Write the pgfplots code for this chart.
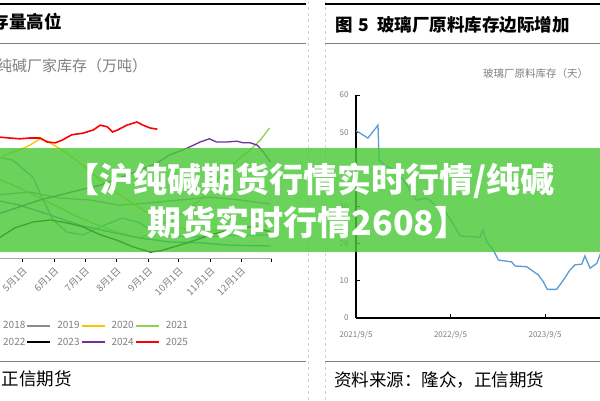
\documentclass[border=0pt]{standalone}
\usepackage{fontspec}
\setmainfont{Noto Sans CJK SC}
\usepackage{pgfplots}
\pgfplotsset{compat=1.18}
\definecolor{c2018}{HTML}{5B9BD5}
\definecolor{c2019}{HTML}{8C8C8C}
\definecolor{c2020}{HTML}{FFC000}
\definecolor{c2021}{HTML}{92D050}
\definecolor{c2022}{HTML}{4472C4}
\definecolor{c2023}{HTML}{000000}
\definecolor{c2024}{HTML}{7030A0}
\definecolor{c2025}{HTML}{FF0000}
\definecolor{glassblue}{HTML}{5B9BD5}
\definecolor{banner}{RGB}{75,201,57}
\definecolor{txtgray}{HTML}{7F7F7F}
\begin{document}
\begin{tikzpicture}
\useasboundingbox (0pt,0pt) rectangle (600pt,400pt);
\clip (0pt,0pt) rectangle (600pt,400pt);
\fill[white] (0pt,0pt) rectangle (600pt,400pt);
\begin{scope}[x=1pt,y=1pt]
 \draw[gray!35, dashed] (308,0) -- (308,400);
 \draw[gray!35, dashed] (325,0) -- (325,400);
 \draw[black, line width=2pt] (0,396) -- (306,396);
 \draw[black, line width=2pt] (325,396) -- (600,396);
 \draw[gray, line width=1pt] (0,356) -- (306,356);
 \draw[gray, line width=1pt] (325,356) -- (600,356);
 \draw[gray, line width=1pt] (0,39) -- (306,39);
 \draw[gray, line width=1pt] (325,39) -- (600,39);
 \node[anchor=east, font=\fontsize{17.5}{20}\selectfont\bfseries, inner sep=0pt] at (62,378) {图 1 纯碱库存量高位};
 \node[anchor=west, font=\fontsize{17.5}{20}\selectfont\bfseries, inner sep=0pt] at (335,375) {图\hspace{6pt}5\hspace{8pt}玻璃厂原料库存边际增加};
 \node[anchor=west, font=\fontsize{15}{18}\selectfont, text=txtgray, inner sep=0pt] at (-3,334) {纯碱厂家库存（万吨）};
 \node[anchor=west, font=\fontsize{10.5}{12}\selectfont, text=txtgray, inner sep=0pt] at (483,326) {玻璃厂原料库存（天）};
 \node[anchor=east, font=\fontsize{17.5}{20}\selectfont, inner sep=0pt] at (72,21) {资料来源：隆众，正信期货};
 \node[anchor=west, font=\fontsize{17.5}{20}\selectfont, inner sep=0pt] at (334,20) {资料来源：隆众，正信期货};
\end{scope}

% left chart: soda ash factory inventory, seasonal
\begin{axis}[
 at={(-99.7pt,142pt)}, anchor=south west,
 scale only axis, width=371.3pt, height=160pt,
 xmin=1, xmax=365, ymin=0, ymax=200,
 axis x line*=bottom, axis y line=none,
 x axis line style={draw=gray!70, line width=1pt, -},
 xtick={1,32,60,91,121,152,182,213,244,274,305,335,365},
 xticklabels={1月1日,2月1日,3月1日,4月1日,5月1日,6月1日,7月1日,8月1日,9月1日,10月1日,11月1日,12月1日,},
 xtick align=outside, major tick length=4pt,
 x tick style={black, line width=0.8pt},
 xticklabel style={rotate=45, anchor=east, font=\fontsize{9.5}{11}\selectfont, text=txtgray, yshift=-7pt},
 ytick=\empty,
 legend columns=4,
 legend style={at={(0.193,-0.3875)}, anchor=north west, draw=none, fill=none,
   font=\fontsize{10}{11}\selectfont, text=txtgray, inner sep=0pt, row sep=6pt,
   nodes={inner sep=1pt},
   /tikz/every odd column/.append style={column sep=5pt}},
 legend image code/.code={\draw[#1, line width=2pt] (0pt,0pt) -- (23pt,0pt);},
]
\addplot[c2018, line width=1.3pt] coordinates {(94,125) (99,125) (111,122.5) (131,101) (141,72.5) (151,47.5) (164,32.5) (180,28.75) (197,39) (219,50) (236,43.75) (246,35) (262,28.75) (285,26) (314,27.5) (344,28.75) (365,28.75)};
\addlegendentry{2018}
\addplot[c2019, line width=1.3pt] coordinates {(94,78.75) (128,82.5) (157,75) (187,72.5) (216,66) (246,69) (275,72.5) (305,76) (334,72.5) (364,67.5)};
\addlegendentry{2019}
\addplot[c2020, line width=1.3pt] coordinates {(94,122.5) (99,125) (108,131) (118,135) (128,141) (138,149) (145,146) (153,140) (160,135) (177,119) (197,97.5) (216,79) (236,62.5) (256,45) (275,37.5) (295,32.5) (314,35) (334,37.5) (354,40) (364,41)};
\addlegendentry{2020}
\addplot[c2021, line width=1.3pt] coordinates {(94,100) (118,87.5) (138,75) (158,62.5) (177,50) (197,40) (216,31) (236,25) (256,35) (275,53.75) (295,72.5) (311,97.5) (324,114) (334,125) (344,135) (354,147.5) (363,162.5)};
\addlegendentry{2021}
\addplot[c2022, line width=1.3pt] coordinates {(94,72.5) (118,66) (148,53.75) (177,41) (207,32.5) (236,25) (265,20) (295,19) (324,16) (364,15)};
\addlegendentry{2022}
\addplot[c2023, line width=1.3pt] coordinates {(94,22.5) (99,26) (113,37.5) (131,45) (148,47.5) (164,44) (180,39) (197,29) (213,22.5) (229,14) (246,7.5) (256,9) (272,15) (285,20) (302,27.5) (311,31) (331,37.5) (344,39) (357,35) (364,32.5)};
\addlegendentry{2023}
\addplot[c2024, line width=1.3pt] coordinates {(94,53.75) (118,64) (138,72.5) (158,79) (177,85) (197,91) (216,100) (236,110) (253,119) (265,129) (278,135) (285,139) (295,145) (304,149) (311,145) (321,145) (331,146) (337,144) (344,144) (351,141) (357,132.5) (361,125) (364,120)};
\addlegendentry{2024}
\addplot[c2025, line width=1.6pt] coordinates {(94,152.5) (99,151) (108,150) (118,149) (128,150) (138,150) (145,145) (153,144) (160,147.5) (169,154) (180,156) (190,160) (197,166) (204,164) (209,157.5) (214,160) (223,166) (233,170) (239,166) (246,162.5) (253,161)};
\addlegendentry{2025}
\end{axis}

% right chart: glass factory raw material inventory (days)
\begin{axis}[
 at={(356pt,82pt)}, anchor=south west,
 scale only axis, width=264.1pt, height=223pt,
 xmin=0, xmax=1020, ymin=0, ymax=60,
 axis x line*=bottom, axis y line*=left,
 axis line style={black, line width=1.2pt, -},
 xtick={0,365,730}, xticklabels={2021/9/5,2022/9/5,2023/9/5},
 ytick={0,10,20,30,40,50,60},
 tick align=inside, major tick length=4pt, tick style={black, line width=0.8pt},
 xticklabel style={font=\fontsize{8}{9}\selectfont, text=txtgray, yshift=-10pt},
 yticklabel style={font=\fontsize{8}{9}\selectfont, text=txtgray, xshift=-4pt},
 /pgf/number format/assume math mode=true,
]
\addplot[glassblue, line width=1.3pt] coordinates {(0,50.3) (10,50.0) (46,48.4) (85,51.9) (89,42.5) (116,40.9) (151,39.8) (189,36.6) (220,33.1) (234,31.7) (266,32.2) (286,31.7) (312,29.9) (337,29.5) (370,25.9) (402,22.1) (479,21.7) (490,23.7) (505,20.5) (530,18.3) (550,15.6) (601,15.1) (614,14.0) (659,13.8) (704,11.6) (723,9.8) (739,7.7) (775,7.7) (801,10.2) (826,12.9) (846,14.3) (872,14.5) (884,16.7) (904,13.4) (930,14.7) (942,16.9) (966,21.0) (990,22.0)};
\end{axis}

% banner overlay
\fill[banner, opacity=0.82] (0pt,148pt) rectangle (600pt,252pt);
\node[text=white, font=\fontsize{34}{37}\selectfont\bfseries, inner sep=0pt] at (310pt,219pt) {【沪纯碱期货行情实时行情/纯碱};
\node[text=white, font=\fontsize{34}{37}\selectfont\bfseries, inner sep=0pt] at (308pt,178pt) {期货实时行情2608】};
\end{tikzpicture}
\end{document}
